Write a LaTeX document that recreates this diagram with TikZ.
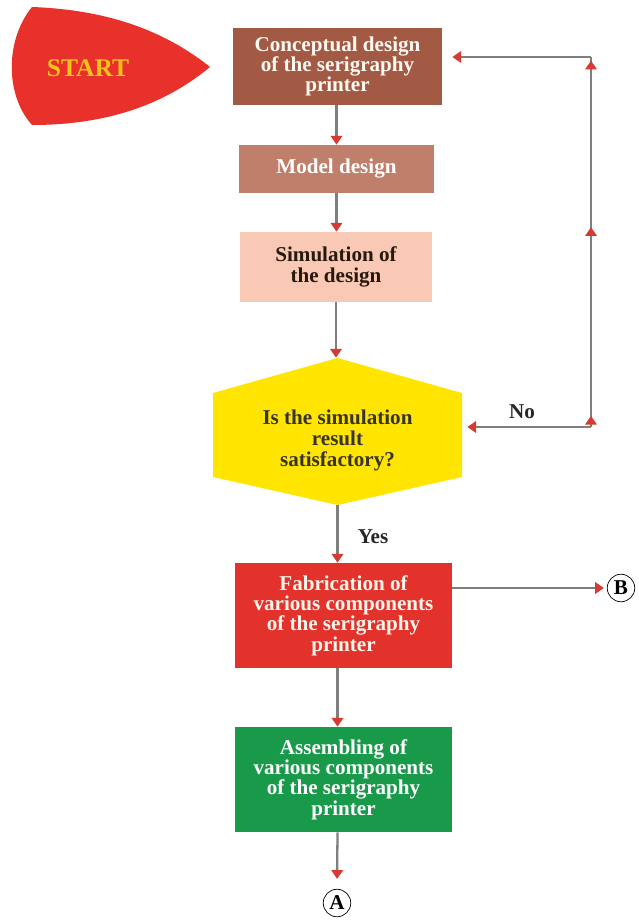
\documentclass[tikz,border=0pt]{standalone}
\usepackage{fontspec}
\setmainfont{Liberation Serif}
\usepackage{tikz}
\usetikzlibrary{arrows.meta, decorations.markings}
\definecolor{startred}{HTML}{E8312A}
\definecolor{startgold}{HTML}{F6C21A}
\definecolor{conceptbrown}{HTML}{A35A45}
\definecolor{modelrose}{HTML}{C07F6B}
\definecolor{simpeach}{HTML}{FAC9B5}
\definecolor{decyellow}{HTML}{FFE500}
\definecolor{fabred}{HTML}{E2322B}
\definecolor{asmgreen}{HTML}{199A4A}
\definecolor{tipred}{HTML}{D63A33}
\definecolor{linegray}{HTML}{7F7F7F}
\tikzstyle{box} = [rectangle, align=center, inner sep=2pt, font=\bfseries\fontsize{12}{11.6}\selectfont]
\tikzstyle{arrow} = [line width=1.3pt, draw=linegray, -{Triangle[length=5pt,width=6.5pt,color=tipred]}]
\tikzstyle{plainline} = [line width=1.3pt, draw=linegray]
\tikzstyle{connector} = [circle, draw=black, thin, fill=white, inner sep=0pt, minimum size=0.55cm, font=\bfseries\fontsize{12}{12}\selectfont]
\tikzstyle{lbl} = [font=\bfseries\fontsize{12}{12}\selectfont, text=black!85]

\begin{document}
\begin{tikzpicture}
            \useasboundingbox (0,0) rectangle (12.76,-18.42);

            % start shape
            \fill[startred] (0.64,-0.14) .. controls (2.3,-0.2) and (3.4,-0.7) .. (4.2,-1.34)
                .. controls (3.4,-2.0) and (2.3,-2.5) .. (0.64,-2.5)
                .. controls (0.1,-1.9) and (0.1,-0.8) .. cycle;
            \node[text=startgold, font=\bfseries\fontsize{14.5}{14.5}\selectfont] (start) at (1.76,-1.36) {START};

            \node[box, fill=conceptbrown, text=white!95!orange, minimum width=4.18cm, minimum height=1.54cm] (concept) at (6.75,-1.33)
                {Conceptual design\\of the serigraphy\\printer};
            \node[box, fill=modelrose, text=white, minimum width=3.9cm, minimum height=0.96cm] (model) at (6.73,-3.38) {Model design};
            \node[box, fill=simpeach, text=black!80!brown, minimum width=3.84cm, minimum height=1.4cm] (sim) at (6.72,-5.34)
                {Simulation of\\the design};

            % decision hexagon
            \fill[decyellow] (6.75,-7.16) -- (9.24,-7.86) -- (9.24,-9.54) -- (6.75,-10.10)
                -- (4.26,-9.54) -- (4.26,-7.86) -- cycle;
            \node[box, text=black!80!olive, minimum width=4.98cm, minimum height=2.94cm] (dec) at (6.75,-8.63)
                {\raisebox{-0.3cm}[0pt][0pt]{\begin{tabular}{@{}c@{}}Is the simulation\\result\\satisfactory?\end{tabular}}};

            \node[box, fill=fabred, text=white!92!orange, minimum width=4.34cm, minimum height=2.1cm] (fab) at (6.87,-12.31)
                {Fabrication of\\various components\\of the serigraphy\\printer};
            \node[box, fill=asmgreen, text=white, minimum width=4.34cm, minimum height=2.1cm] (asm) at (6.87,-15.59)
                {Assembling of\\various components\\of the serigraphy\\printer};

            \node[connector] (B) at (12.42,-11.76) {B};
            \node[connector] (A) at (6.74,-18.06) {A};

            \node[lbl] (yeslbl) at (7.46,-10.74) {Yes};
            \node[lbl] (nolbl) at (10.44,-8.24) {No};

            \coordinate (c1) at (11.82,-8.54);
            \coordinate (c3) at (11.82,-1.14);

            % main flow
            \draw[arrow] (concept.south -| model.north) -- (model.north);
            \draw[arrow] (model.south) -- (model.south |- sim.north);
            \draw[arrow] (sim.south) -- (sim.south |- dec.north);
            \draw[arrow] (dec.south) -- (dec.south |- fab.north);
            \draw[arrow] (fab.south -| dec.south) -- (dec.south |- asm.north);
            \draw[arrow, shorten >=0.2cm] (asm.south -| dec.south) -- (A.north);
            \draw[arrow, shorten >=0.06cm] (B -| fab.east) -- (B.west);

            % return path
            \draw[arrow, shorten >=0.1cm] (c1) -- (c1 -| dec.east);
            \draw[plainline, postaction={decorate}, decoration={markings,
                mark=at position 0.03 with {\arrow{Triangle[length=5pt,width=6.5pt,color=tipred]}},
                mark=at position 0.54 with {\arrow{Triangle[length=5pt,width=6.5pt,color=tipred]}},
                mark=at position 0.99 with {\arrow{Triangle[length=5pt,width=6.5pt,color=tipred]}}}] (c1) -- (c3);
            \draw[arrow, shorten >=0.2cm] (c3) -- (c3 -| concept.east);
\end{tikzpicture}
\end{document}
